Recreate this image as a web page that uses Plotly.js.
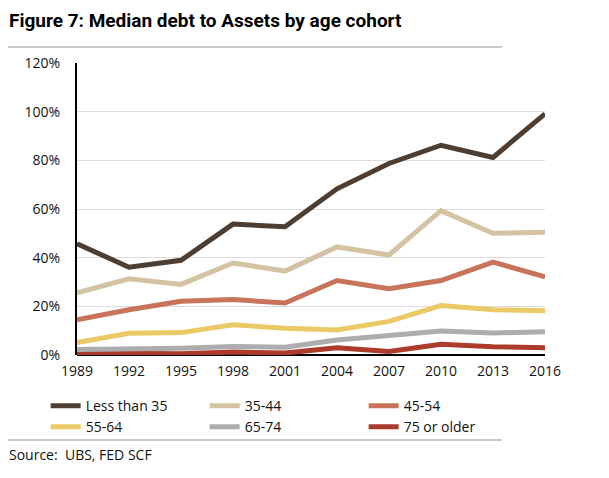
<!DOCTYPE html>
<html>
<head>
<meta charset="utf-8">
<script src="https://cdn.plot.ly/plotly-3.0.1.min.js"></script>
<style>
  html, body { margin: 0; padding: 0; background: #fff; }
  #chart { width: 609px; height: 478px; }
</style>
</head>
<body>
<div id="chart"></div>
<script>
// survey years (SCF waves)
const years = [1989, 1992, 1995, 1998, 2001, 2004, 2007, 2010, 2013, 2016];

// median debt to assets, %
const lessThan35 = [45.7, 36.1, 38.9, 53.8, 52.7, 68.3, 78.7, 86.2, 81.2, 99.1];
const age35to44  = [25.5, 31.3, 29.0, 37.8, 34.5, 44.4, 41.1, 59.3, 50.0, 50.4];
const age45to54  = [14.5, 18.6, 22.1, 22.8, 21.4, 30.6, 27.2, 30.6, 38.2, 32.1];
const age55to64  = [5.1, 8.9, 9.2, 12.4, 11.0, 10.3, 13.8, 20.3, 18.6, 18.2];
const age65to74  = [2.3, 2.5, 2.8, 3.5, 3.2, 6.2, 8.3, 9.9, 9.0, 9.6];
const age75plus  = [0.8, 0.8, 0.5, 1.2, 0.8, 3.0, 1.4, 4.4, 3.4, 3.0];

const seriesNames = ["Less than 35", "35-44", "45-54", "55-64", "65-74", "75 or older"];
const seriesColors = ["#4e3d31", "#d3c3a3", "#c9735b", "#ebc966", "#adadb0", "#ad3b2b"];
const seriesValues = [lessThan35, age35to44, age45to54, age55to64, age65to74, age75plus];

const FONT = "'Open Sans', 'Noto Sans', sans-serif";

const traces = seriesValues.map((vals, i) => ({
    x: years,
    y: vals,
    type: "scatter",
    mode: "lines",
    name: seriesNames[i],
    line: {color: seriesColors[i], width: 5},
    hovertemplate: "%{x}: %{y:.0f}%<extra></extra>"
}));

// darker/younger lines sit on top, so draw the oldest first
traces.reverse();

const layout = {
    width: 609,
    height: 478,
    margin: {l: 77, r: 64, t: 63, b: 123},
    paper_bgcolor: "#fff",
    plot_bgcolor: "#fff",
    font: {family: FONT, size: 14, color: "#111"},
    showlegend: true,
    legend: {
        orientation: "h",
        traceorder: "reversed",
        x: -0.067, xanchor: "left",
        y: -0.12, yanchor: "top",
        bgcolor: "rgba(0,0,0,0)",
        entrywidth: 114, entrywidthmode: "pixels",
        font: {family: FONT, size: 14, color: "#111"},
        itemwidth: 30
    },
    xaxis: {
        range: [1989, 2016],
        tickvals: years,
        ticktext: years.map(String),
        showgrid: false,
        zeroline: false,
        showline: false,
        ticks: "",
        ticklabelstandoff: 6,
        tickfont: {family: FONT, size: 14, color: "#111"},
        fixedrange: true
    },
    yaxis: {
        range: [0, 120],
        dtick: 20,
        ticksuffix: "%",
        showgrid: true,
        gridcolor: "#dcdcdc",
        gridwidth: 1,
        zeroline: true,
        zerolinecolor: "#000",
        zerolinewidth: 2,
        showline: true,
        linecolor: "#000",
        linewidth: 2,
        ticks: "",
        ticklabelstandoff: 12,
        tickfont: {family: FONT, size: 14, color: "#111"},
        fixedrange: true
    },
    shapes: [
        {type: "line", xref: "paper", yref: "paper", x0: -0.147, x1: 0.908, y0: 1.055, y1: 1.055,
         line: {color: "#c8c8c8", width: 2}},
        {type: "line", xref: "paper", yref: "paper", x0: -0.147, x1: 0.908, y0: -0.291, y1: -0.291,
         line: {color: "#c8c8c8", width: 2}}
    ],
    annotations: [
        {text: "<b>Figure 7: Median debt to Assets by age cohort</b>", xref: "paper", yref: "paper",
         x: -0.15, y: 1.147, xanchor: "left", yanchor: "middle", showarrow: false,
         font: {family: "Roboto, 'Open Sans', sans-serif", size: 19, color: "#000"}},
        {text: "Source:  UBS, FED SCF", xref: "paper", yref: "paper",
         x: -0.15, y: -0.342, xanchor: "left", yanchor: "middle", showarrow: false,
         font: {family: FONT, size: 14, color: "#111"}}
    ]
};

Plotly.newPlot("chart", traces, layout, {displayModeBar: false, staticPlot: true});
</script>
</body>
</html>
